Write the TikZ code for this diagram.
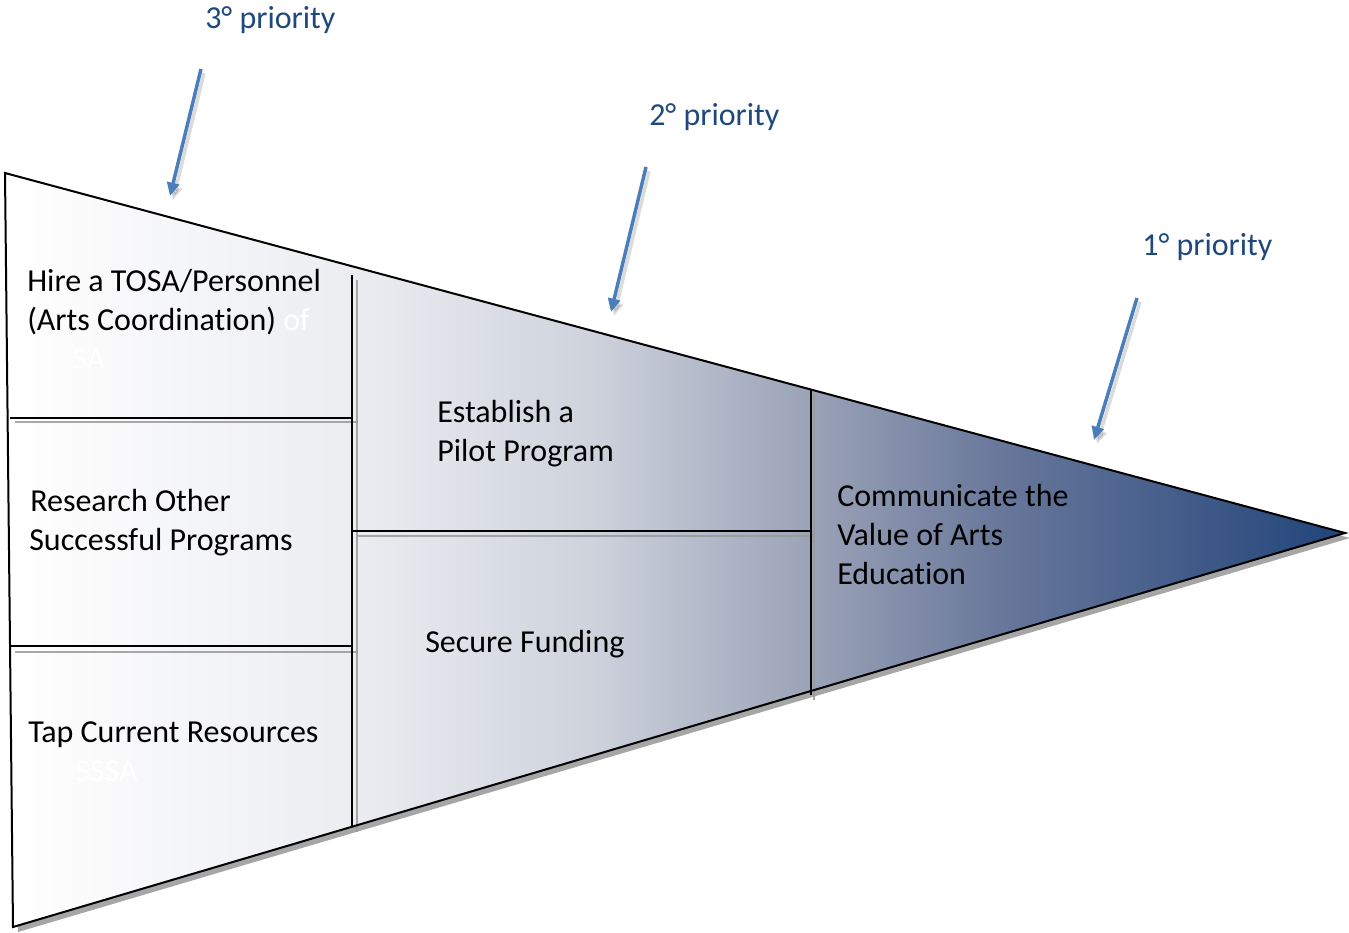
\documentclass[tikz,border=0pt]{standalone}
\usepackage{fontspec}
\setmainfont{Carlito}[Ligatures=NoCommon]
\usetikzlibrary{arrows.meta}

\definecolor{labelblue}{RGB}{31,73,125}
\definecolor{arrowblue}{RGB}{74,126,187}
\definecolor{fz1}{RGB}{236,237,241}
\definecolor{fz2}{RGB}{205,210,220}
\definecolor{fz3}{RGB}{155,163,183}
\definecolor{fz4}{RGB}{105,120,155}
\definecolor{fz5}{RGB}{33,68,122}

% white to navy along the funnel (inner 25bp..75bp spans the shape)
\pgfdeclarehorizontalshading{funnel}{100bp}{%
  color(0bp)=(white); color(25bp)=(white); color(38bp)=(fz1);
  color(47bp)=(fz2); color(55bp)=(fz3); color(62bp)=(fz4);
  color(75bp)=(fz5); color(100bp)=(fz5)}

\tikzset{
  rim/.style={black, line width=1.5pt, line join=miter},
  divider/.style={black, line width=1.5pt},
  ridge/.style={gray!80, line width=2.2pt, opacity=0.85},
  itemtext/.style={anchor=base west, inner sep=0pt,
    font=\fontsize{24pt}{29.25pt}\selectfont},
  ghost/.style={itemtext, text=white},
  prio/.style={anchor=base west, inner sep=0pt, text=labelblue,
    font=\fontsize{24pt}{29.25pt}\selectfont},
  pointer/.style={arrowblue, line width=2.6pt,
    -{Triangle[length=10pt,width=9pt]}},
  pointershade/.style={pointer, draw=black, opacity=0.14}
}

\begin{document}
\begin{tikzpicture}[x=0.75pt,y=-0.75pt]
\useasboundingbox (0,0) rectangle (1349,932);

% funnel corners
\coordinate (tl) at (5,173);
\coordinate (apex) at (1345,533);
\coordinate (bl) at (13,927);

% drop shadow and shaded body
\fill[gray!70] (10,178) -- (1350,538) -- (18,932) -- cycle;
\shade[shading=funnel] (tl) -- (apex) -- (bl) -- cycle;

% column and row separators (grey relief first, black on top)
\draw[ridge] (357,280) -- (357,832);
\draw[ridge] (15,422) -- (358,422);
\draw[ridge] (15,652) -- (358,652);
\draw[ridge] (357,536) -- (814,536);
\draw[ridge] (814,393) -- (814,700);

\draw[divider] (352,275) -- (352,827);
\draw[divider] (10,418) -- (352,418);
\draw[divider] (11,646) -- (352,646);
\draw[divider] (352,531) -- (811,531);
\draw[divider] (811,390) -- (811,695);

% outline
\draw[rim] (tl) -- (apex) -- (bl) -- cycle;

% first column
\node[itemtext] (hire1) at (27,291) {Hire a TOSA/Personnel};
\node[itemtext] (hire2) at (27,330) {(Arts Coordination) \textcolor{white}{of}};
\node[ghost] (hire3) at (72,369) {SA};
\node[itemtext] (res1) at (30,511) {Research Other};
\node[itemtext] (res2) at (29,550) {Successful Programs};
\node[itemtext] (tap) at (28,742) {Tap Current Resources};
\node[ghost] (tap2) at (75,781) {SSSA};

% second column
\node[itemtext] (pilot1) at (437,422) {Establish a};
\node[itemtext] (pilot2) at (437,461) {Pilot Program};
\node[itemtext] (fund) at (425,652) {Secure Funding};

% third column
\node[itemtext] (comm1) at (837,506) {Communicate the};
\node[itemtext] (comm2) at (837,545) {Value of Arts};
\node[itemtext] (comm3) at (837,584) {Education};

% priority labels
\node[prio] (p3) at (205,28) {3° priority};
\node[prio] (p2) at (649,125) {2° priority};
\node[prio] (p1) at (1142,255) {1° priority};

% priority pointers
\coordinate (a3s) at (201,69);   \coordinate (a3e) at (170,196);
\coordinate (a2s) at (646,167);  \coordinate (a2e) at (611,312);
\coordinate (a1s) at (1137,298); \coordinate (a1e) at (1094,440);

\draw[pointershade] ([shift={(3,4)}]a3s) -- ([shift={(3,4)}]a3e);
\draw[pointershade] ([shift={(3,4)}]a2s) -- ([shift={(3,4)}]a2e);
\draw[pointershade] ([shift={(3,4)}]a1s) -- ([shift={(3,4)}]a1e);
\draw[pointer] (a3s) -- (a3e);
\draw[pointer] (a2s) -- (a2e);
\draw[pointer] (a1s) -- (a1e);
\end{tikzpicture}
\end{document}
